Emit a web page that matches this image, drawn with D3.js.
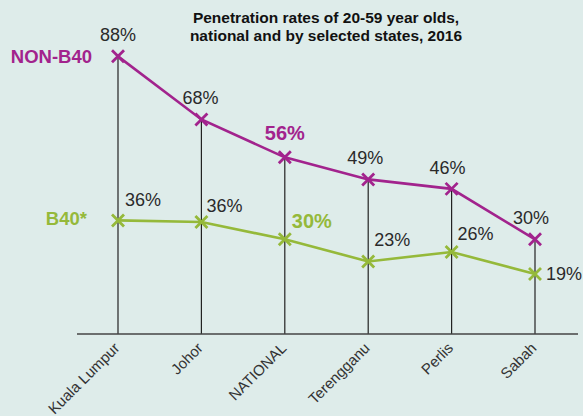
<!DOCTYPE html>
<html>
<head>
<meta charset="utf-8">
<script src="https://cdn.jsdelivr.net/npm/d3@7"></script>
<style>
  body { margin: 0; background: #deecea; }
  svg { display: block; font-family: "Liberation Sans", Arial, sans-serif; }
</style>
</head>
<body>
<script>
// data
var states = ["Kuala Lumpur", "Johor", "NATIONAL", "Terengganu", "Perlis", "Sabah"];
var nonB40 = [88, 68, 56, 49, 46, 30];
var b40 = [36, 35.5, 30, 23, 26, 19];
var titleLines = ["Penetration rates of 20-59 year olds,", "national and by selected states, 2016"];

var width = 583, height = 416;
var purple = "#a2238d", green = "#95b93a";

var svg = d3.select("body").append("svg")
    .attr("width", width)
    .attr("height", height);

svg.append("rect").attr("width", width).attr("height", height).attr("fill", "#deecea");

// scales
var x = d3.scalePoint().domain(states).range([118, 535]);
var y = d3.scaleLinear().domain([0, 100]).range([334, 18.5]);

// title
svg.append("text")
    .attr("x", 326).attr("y", 23)
    .attr("text-anchor", "middle")
    .style("font-weight", "bold").style("font-size", "15.5px").attr("fill", "#111")
  .selectAll("tspan").data(titleLines).enter().append("tspan")
    .attr("x", 326).attr("dy", function(d, i) { return i ? 18 : 0; })
    .text(function(d) { return d; });

// vertical drop lines up to the top series
svg.selectAll(".drop").data(states).enter().append("line")
    .attr("class", "drop")
    .attr("x1", function(d) { return x(d); })
    .attr("x2", function(d) { return x(d); })
    .attr("y1", y(0))
    .attr("y2", function(d, i) { return y(nonB40[i]); })
    .attr("stroke", "#222").attr("stroke-width", 1.2);

// x axis
var xAxis = d3.axisBottom(x).tickSize(0).tickPadding(0);
var gx = svg.append("g").attr("transform", "translate(0," + y(0) + ")").call(xAxis);
gx.select(".domain").remove();
gx.append("line").attr("x1", 77).attr("x2", 578).attr("stroke", "#444").attr("stroke-width", 1.6);
gx.selectAll(".tick text")
    .attr("text-anchor", "end")
    .attr("fill", "#333")
    .style("font-size", "15px")
    .style("font-family", "'Liberation Sans', Arial, sans-serif")
    .attr("dy", "0")
    .attr("transform", "translate(2,15) rotate(-45)");

function drawSeries(vals, color) {
  var line = d3.line()
      .x(function(d, i) { return x(states[i]); })
      .y(function(d) { return y(d); });
  svg.append("path").datum(vals)
      .attr("d", line)
      .attr("fill", "none")
      .attr("stroke", color).attr("stroke-width", 2.6);
  var s = 6;
  var g = svg.selectAll(null).data(vals).enter().append("g")
      .attr("transform", function(d, i) { return "translate(" + x(states[i]) + "," + y(d) + ")"; });
  g.append("path")
      .attr("d", "M" + (-s) + "," + (-s) + "L" + s + "," + s + "M" + (-s) + "," + s + "L" + s + "," + (-s))
      .attr("stroke", color).attr("stroke-width", 2.8).attr("fill", "none");
}

drawSeries(nonB40, purple);
drawSeries(b40, green);

// label placements (layout only)
var topOffsets = [[0, -15], [-1, -15], [0, -17], [-3, -15], [-4, -15], [-4, -15]];
var lowOffsets = [[7, -14], [5, -10], [7, -11], [6, -15], [6, -12], [11, 6]];

svg.selectAll(".lblTop").data(nonB40).enter().append("text")
    .attr("class", "lblTop")
    .attr("x", function(d, i) { return x(states[i]) + topOffsets[i][0]; })
    .attr("y", function(d, i) { return y(d) + topOffsets[i][1]; })
    .attr("text-anchor", "middle")
    .attr("fill", function(d, i) { return states[i] === "NATIONAL" ? purple : "#2a2a2a"; })
    .style("font-weight", function(d, i) { return states[i] === "NATIONAL" ? "bold" : "normal"; })
    .style("font-size", function(d, i) { return states[i] === "NATIONAL" ? "20px" : "18px"; })
    .text(function(d) { return Math.round(d) + "%"; });

svg.selectAll(".lblLow").data(b40).enter().append("text")
    .attr("class", "lblLow")
    .attr("x", function(d, i) { return x(states[i]) + lowOffsets[i][0]; })
    .attr("y", function(d, i) { return y(d) + lowOffsets[i][1]; })
    .attr("text-anchor", "start")
    .attr("fill", function(d, i) { return states[i] === "NATIONAL" ? green : "#2a2a2a"; })
    .style("font-weight", function(d, i) { return states[i] === "NATIONAL" ? "bold" : "normal"; })
    .style("font-size", function(d, i) { return states[i] === "NATIONAL" ? "20px" : "18px"; })
    .text(function(d) { return Math.round(d) + "%"; });

// series names
svg.append("text")
    .attr("x", 92).attr("y", y(nonB40[0]) + 7)
    .attr("text-anchor", "end")
    .attr("fill", purple)
    .style("font-weight", "bold").style("font-size", "18.5px")
    .text("NON-B40");

svg.append("text")
    .attr("x", 87).attr("y", y(b40[0]) + 5)
    .attr("text-anchor", "end")
    .attr("fill", green)
    .style("font-weight", "bold").style("font-size", "18.5px")
    .text("B40*");
</script>
</body>
</html>
